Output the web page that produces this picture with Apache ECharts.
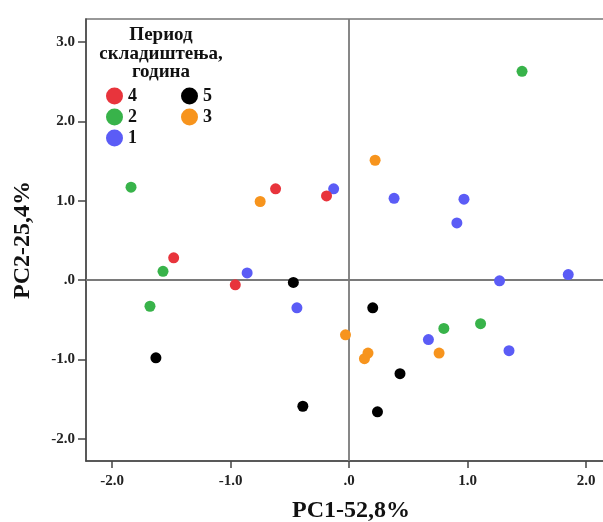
<!DOCTYPE html>
<html>
<head>
<meta charset="utf-8">
<script src="https://cdn.jsdelivr.net/npm/echarts@6/dist/echarts.min.js"></script>
<style>
html,body{margin:0;padding:0;background:#fff;}
#chart{width:603px;height:522px;}
</style>
</head>
<body>
<div id="chart"></div>
<script>
// Data (PC1, PC2)
const group4 = [[-0.62, 1.15], [-0.19, 1.06], [-1.48, 0.28], [-0.96, -0.06]];
const group2 = [[1.46, 2.63], [-1.84, 1.17], [-1.57, 0.11], [-1.68, -0.33], [0.80, -0.61], [1.11, -0.55]];
const group1 = [[-0.13, 1.15], [-0.86, 0.09], [-0.44, -0.35], [0.38, 1.03], [0.97, 1.02], [0.91, 0.72], [1.27, -0.01], [1.85, 0.07], [0.67, -0.75], [1.35, -0.89]];
const group5 = [[-0.47, -0.03], [0.20, -0.35], [-1.63, -0.98], [-0.39, -1.59], [0.43, -1.18], [0.24, -1.66]];
const group3 = [[0.22, 1.51], [-0.75, 0.99], [-0.03, -0.69], [0.16, -0.92], [0.13, -0.99], [0.76, -0.92]];

const xTicks = [-2, -1, 0, 1, 2];
const yTicks = [-2, -1, 0, 1, 2, 3];
const legendTitle = 'Период\nскладиштења,\nгодина';
const xName = 'PC1-52,8%';
const yName = 'PC2-25,4%';

const colors = {'4': '#e8343c', '2': '#38b34a', '1': '#5b5cf6', '5': '#000000', '3': '#f7941d'};
const serif = '"Liberation Serif", "DejaVu Serif", serif';
const fmt = v => (Math.abs(v) < 1e-9 ? '.0' : v.toFixed(1));

const chart = echarts.init(document.getElementById('chart'), null, {renderer: 'canvas'});

function mk(name, data) {
  return {
    name: name, type: 'scatter', data: data, symbolSize: 11,
    itemStyle: {color: colors[name], opacity: 1}
  };
}
const series = [mk('5', group5), mk('3', group3), mk('1', group1), mk('2', group2), mk('4', group4)];
series[0].markLine = {
  silent: true, symbol: 'none', label: {show: false},
  lineStyle: {color: '#7a7a7a', width: 1.8, type: 'solid'},
  data: [{xAxis: 0}, {yAxis: 0}],
  z: 1
};

const legendText = {fontFamily: serif, fontWeight: 'bold', fontSize: 18, color: '#111'};

chart.setOption({
  animation: false,
  backgroundColor: '#fff',
  title: {
    text: legendTitle, left: 161, top: 26, textAlign: 'center', padding: 0,
    textStyle: {fontFamily: serif, fontWeight: 'bold', fontSize: 19, lineHeight: 18.5, color: '#111'}
  },
  legend: [
    {data: ['4', '2', '1'], orient: 'vertical', left: 106, top: 87, itemWidth: 17, itemHeight: 17, itemGap: 3, padding: 0, icon: 'circle',
     textStyle: legendText},
    {data: ['5', '3'], orient: 'vertical', left: 181, top: 87, itemWidth: 17, itemHeight: 17, itemGap: 3, padding: 0, icon: 'circle',
     textStyle: legendText}
  ],
  grid: {left: 86, top: 19, width: 530, height: 442, show: true, borderColor: '#777', borderWidth: 1.5, backgroundColor: 'transparent',
         containLabel: false, outerBoundsMode: 'none'},
  xAxis: {
    type: 'value', min: -2.22, max: 2.253,
    name: xName, nameLocation: 'middle', nameGap: 38,
    nameTextStyle: {fontFamily: serif, fontWeight: 'bold', fontSize: 24, color: '#111'},
    axisLine: {onZero: false, lineStyle: {color: '#444', width: 1.5}},
    axisTick: {show: true, length: 7, customValues: xTicks, lineStyle: {color: '#444', width: 1.5}},
    axisLabel: {customValues: xTicks, formatter: fmt, margin: 13, fontFamily: serif, fontWeight: 'bold', fontSize: 15, color: '#222'},
    splitLine: {show: false}
  },
  yAxis: {
    type: 'value', min: -2.28, max: 3.29,
    name: yName, nameLocation: 'middle', nameGap: 51, nameRotate: 90,
    nameTextStyle: {fontFamily: serif, fontWeight: 'bold', fontSize: 24, color: '#111'},
    axisLine: {onZero: false, lineStyle: {color: '#444', width: 1.5}},
    axisTick: {show: true, length: 8, customValues: yTicks, lineStyle: {color: '#444', width: 1.5}},
    axisLabel: {customValues: yTicks, formatter: fmt, margin: 11, fontFamily: serif, fontWeight: 'bold', fontSize: 15, color: '#222'},
    splitLine: {show: false}
  },
  series: series
});
</script>
</body>
</html>
